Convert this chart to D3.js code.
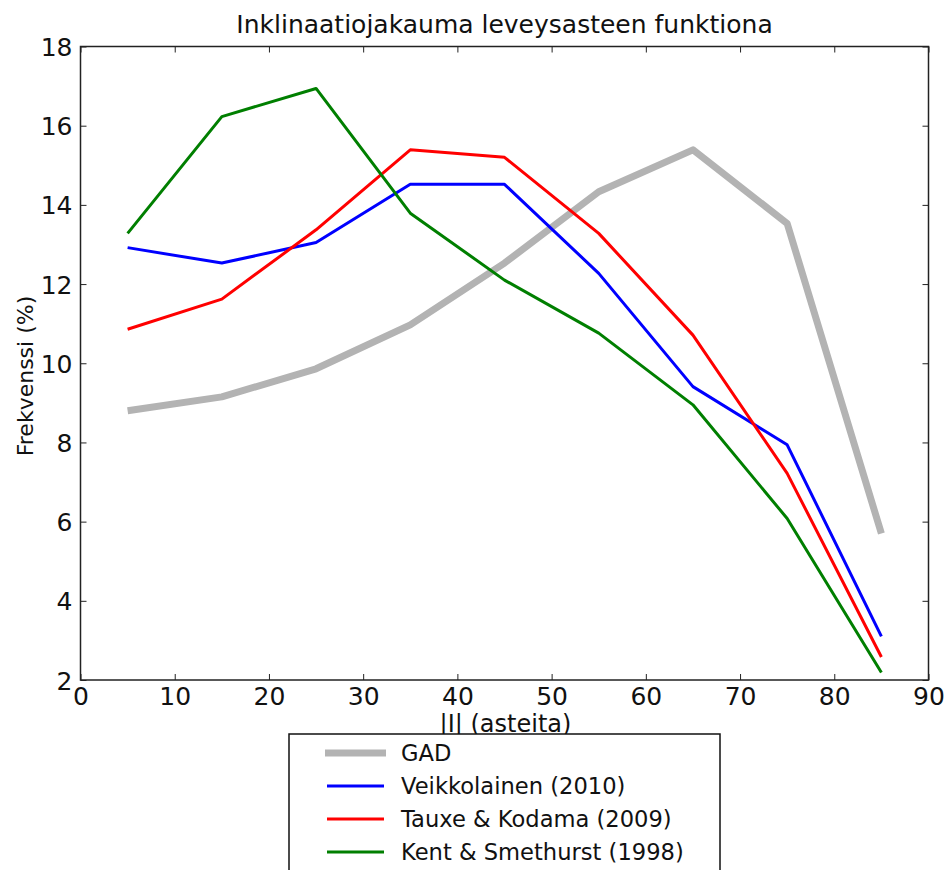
<!DOCTYPE html>
<html>
<head>
<meta charset="utf-8">
<script src="https://cdn.jsdelivr.net/npm/d3@7"></script>
<style>
  html, body { margin: 0; padding: 0; background: #fff; }
  svg { display: block; font-family: "DejaVu Sans", sans-serif; }
</style>
</head>
<body>
<svg id="chart" width="949" height="870"></svg>
<script>
// Latitude bins (bin centres, degrees)
const latitudes = [5, 15, 25, 35, 45, 55, 65, 75, 85];

// Inclination frequency (%) per latitude bin for each model / dataset
const gadValues        = [8.80, 9.15, 9.86, 10.97, 12.53, 14.33, 15.39, 13.53, 5.70];
const veikkolainenVals = [12.92, 12.53, 13.05, 14.52, 14.52, 12.27, 9.41, 7.94, 3.10];
const tauxeKodamaVals  = [10.86, 11.62, 13.37, 15.39, 15.20, 13.28, 10.71, 7.22, 2.58];
const kentSmethurstVals = [13.28, 16.23, 16.94, 13.79, 12.10, 10.76, 8.95, 6.08, 2.19];

const seriesNames  = ["GAD", "Veikkolainen (2010)", "Tauxe & Kodama (2009)", "Kent & Smethurst (1998)"];
const seriesColors = ["#b3b3b3", "#0000ff", "#ff0000", "#007f00"];
const seriesWidths = [7, 3, 3, 3];

const xTicks = [0, 10, 20, 30, 40, 50, 60, 70, 80, 90];
const yTicks = [2, 4, 6, 8, 10, 12, 14, 16, 18];

const series = [gadValues, veikkolainenVals, tauxeKodamaVals, kentSmethurstVals].map((vals, i) => ({
  name: seriesNames[i],
  color: seriesColors[i],
  width: seriesWidths[i],
  points: latitudes.map((lat, j) => ({ x: lat, y: vals[j] }))
}));

const svg = d3.select("#chart");
const plot = { left: 80.5, right: 928.5, top: 46.5, bottom: 680 };

const x = d3.scaleLinear().domain([0, 90]).range([plot.left, plot.right]);
const y = d3.scaleLinear().domain([2, 18]).range([plot.bottom, plot.top]);

// Title
svg.append("text")
  .attr("x", (plot.left + plot.right) / 2)
  .attr("y", 33)
  .attr("text-anchor", "middle")
  .attr("font-size", 25)
  .attr("fill", "#111")
  .text("Inklinaatiojakauma leveysasteen funktiona");

// Data lines
const line = d3.line().x(d => x(d.x)).y(d => y(d.y));
svg.append("g").selectAll("path")
  .data(series)
  .join("path")
  .attr("d", d => line(d.points))
  .attr("fill", "none")
  .attr("stroke", d => d.color)
  .attr("stroke-width", d => d.width)
  .attr("stroke-linejoin", "round")
  .attr("stroke-linecap", "butt");

// Axes with inward ticks on all four sides
const tickLen = 6;
const axisColor = "#222";

const bottomAxis = d3.axisBottom(x).tickValues(xTicks).tickSize(-tickLen).tickPadding(6).tickFormat(d3.format("d"));
const topAxis = d3.axisTop(x).tickValues(xTicks).tickSize(-tickLen).tickFormat("");
const leftAxis = d3.axisLeft(y).tickValues(yTicks).tickSize(-tickLen).tickPadding(8).tickFormat(d3.format("d"));
const rightAxis = d3.axisRight(y).tickValues(yTicks).tickSize(-tickLen).tickFormat("");

function styleAxis(g) {
  g.select(".domain").remove();
  g.selectAll(".tick line").attr("stroke", axisColor).attr("stroke-width", 1);
  g.selectAll(".tick text").attr("fill", "#111").attr("font-size", 25).attr("font-family", "DejaVu Sans, sans-serif");
}

svg.append("g").attr("transform", `translate(0,${plot.bottom})`).call(bottomAxis).call(styleAxis)
  .selectAll(".tick text").attr("dy", "0.75em");
svg.append("g").attr("transform", `translate(0,${plot.top})`).call(topAxis).call(styleAxis);
svg.append("g").attr("transform", `translate(${plot.left},0)`).call(leftAxis).call(styleAxis)
  .selectAll(".tick text").attr("dy", "0.36em");
svg.append("g").attr("transform", `translate(${plot.right},0)`).call(rightAxis).call(styleAxis);

// Frame
svg.append("rect")
  .attr("x", plot.left).attr("y", plot.top)
  .attr("width", plot.right - plot.left).attr("height", plot.bottom - plot.top)
  .attr("fill", "none").attr("stroke", axisColor).attr("stroke-width", 1.5);

// Axis labels
svg.append("text")
  .attr("x", (plot.left + plot.right) / 2 + 1)
  .attr("y", 732)
  .attr("text-anchor", "middle")
  .attr("font-size", 24)
  .attr("fill", "#111")
  .text("|I| (asteita)");

svg.append("text")
  .attr("transform", `translate(33,376) rotate(-90)`)
  .attr("text-anchor", "middle")
  .attr("font-size", 22)
  .attr("fill", "#111")
  .text("Frekvenssi (%)");

// Legend (sits below the axes, partly over the x label)
const legend = svg.append("g");
legend.append("rect")
  .attr("x", 289).attr("y", 734)
  .attr("width", 431).attr("height", 160)
  .attr("fill", "#fff").attr("stroke", "#111").attr("stroke-width", 1.5);

const legendRowY = [753, 786, 819, 852];
const rows = legend.selectAll("g.row")
  .data(series)
  .join("g")
  .attr("class", "row")
  .attr("transform", (d, i) => `translate(0,${legendRowY[i]})`);

rows.append("line")
  .attr("x1", (d, i) => i === 0 ? 325 : 327)
  .attr("x2", (d, i) => i === 0 ? 386 : 384)
  .attr("y1", 0).attr("y2", 0)
  .attr("stroke", d => d.color)
  .attr("stroke-width", d => d.width);

rows.append("text")
  .attr("x", 401)
  .attr("dy", "0.36em")
  .attr("font-size", 22.6)
  .attr("fill", "#111")
  .text(d => d.name);
</script>
</body>
</html>
